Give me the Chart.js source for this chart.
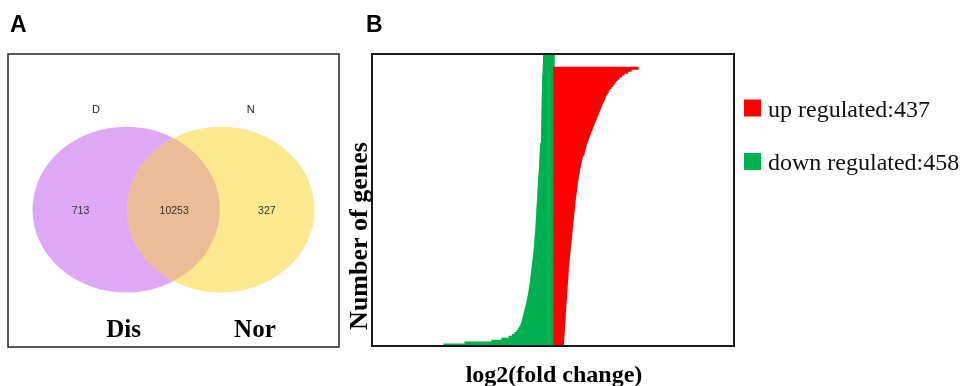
<!DOCTYPE html>
<html>
<head>
<meta charset="utf-8">
<script src="https://cdn.jsdelivr.net/npm/chart.js@4.4.0/dist/chart.umd.min.js"></script>
<style>
  html, body { margin: 0; padding: 0; background: #ffffff; }
  #wrap { position: relative; width: 966px; height: 386px; overflow: hidden; }
  #chartB { position: absolute; left: 0; top: 0; }
  #chartA { position: absolute; left: 0; top: 0; }
</style>
</head>
<body>
<div id="wrap">
  <canvas id="chartB" width="966" height="386"></canvas>
  <canvas id="chartA" width="345" height="386"></canvas>
</div>
<script>
// ---------- Panel A data (Venn) ----------
const vennSets = ['D', 'N'];
const vennCaptions = ['Dis', 'Nor'];
const vennCounts = [713, 10253, 327]; // D only, D and N, N only

// ---------- Panel B data (sorted log2 fold change, bottom to top, binned genes) ----------
const upCount = 437;
const downCount = 458;
const downLog2FC = [
  -11.0, -8.9, -6.2, -5.2, -4.5, -4.15, -3.9, -3.72, -3.56, -3.45,
  -3.33, -3.25, -3.18, -3.13, -3.09, -3.05, -2.99, -2.95, -2.9, -2.86,
  -2.81, -2.76, -2.71, -2.67, -2.63, -2.6, -2.56, -2.52, -2.49, -2.46,
  -2.43, -2.4, -2.38, -2.35, -2.32, -2.3, -2.27, -2.25, -2.23, -2.21,
  -2.19, -2.17, -2.14, -2.12, -2.1, -2.07, -2.05, -2.03, -2.01, -1.99,
  -1.97, -1.95, -1.93, -1.92, -1.9, -1.89, -1.88, -1.86, -1.85, -1.83,
  -1.82, -1.8, -1.79, -1.78, -1.77, -1.76, -1.75, -1.73, -1.72, -1.71,
  -1.7, -1.69, -1.68, -1.67, -1.66, -1.65, -1.63, -1.62, -1.61, -1.6,
  -1.59, -1.58, -1.57, -1.56, -1.55, -1.54, -1.53, -1.51, -1.5, -1.49,
  -1.47, -1.46, -1.45, -1.44, -1.43, -1.42, -1.41, -1.4, -1.39, -1.38,
  -1.37, -1.36, -1.35, -1.35, -1.34, -1.33, -1.25, -1.24, -1.24, -1.23,
  -1.23, -1.23, -1.22, -1.22, -1.22, -1.21, -1.21, -1.21, -1.2, -1.2,
  -1.2, -1.19, -1.19, -1.19, -1.18, -1.18, -1.18, -1.17, -1.17, -1.17,
  -1.16, -1.16, -1.15, -1.15, -1.15, -1.14, -1.14, -1.13, -1.13, -1.12,
  -1.12, -1.11, -1.1, -1.07, -1.07, -1.06, -1.06, -1.05, -1.05, -1.04,
  -1.04, -1.03, -1.03
];
const upLog2FC = [
  0.93, 0.94, 0.95, 0.96, 0.97, 0.98, 0.99, 1.01, 1.02, 1.03,
  1.04, 1.05, 1.06, 1.08, 1.09, 1.1, 1.11, 1.12, 1.14, 1.15,
  1.16, 1.17, 1.18, 1.19, 1.21, 1.22, 1.24, 1.25, 1.26, 1.28,
  1.29, 1.3, 1.32, 1.34, 1.35, 1.36, 1.37, 1.38, 1.39, 1.4,
  1.41, 1.43, 1.45, 1.47, 1.49, 1.51, 1.53, 1.55, 1.57, 1.59,
  1.6, 1.62, 1.64, 1.66, 1.68, 1.7, 1.72, 1.74, 1.76, 1.78,
  1.79, 1.81, 1.83, 1.85, 1.87, 1.89, 1.91, 1.93, 1.95, 1.97,
  1.99, 2.01, 2.03, 2.05, 2.06, 2.08, 2.1, 2.13, 2.15, 2.18,
  2.2, 2.23, 2.25, 2.28, 2.3, 2.33, 2.36, 2.39, 2.42, 2.45,
  2.48, 2.51, 2.55, 2.58, 2.62, 2.66, 2.7, 2.75, 2.8, 2.86,
  2.97, 3.02, 3.06, 3.11, 3.16, 3.21, 3.28, 3.35, 3.42, 3.48,
  3.55, 3.63, 3.7, 3.78, 3.85, 3.93, 4.01, 4.08, 4.16, 4.23,
  4.31, 4.39, 4.47, 4.55, 4.63, 4.7, 4.77, 4.86, 4.95, 5.04,
  5.12, 5.2, 5.32, 5.43, 5.53, 5.7, 5.85, 6.0, 6.12, 6.3,
  6.5, 6.75, 7.0, 7.35, 7.7, 8.4
];
const geneRankBins = downLog2FC.map((_, i) => 'bin ' + (i + 1));
const legendLabels = ['up regulated:' + upCount, 'down regulated:' + downCount];
const axisTitleX = 'log2(fold change)';
const axisTitleY = 'Number of genes';
const panelLetters = ['A', 'B'];

// ---------- Panel B ----------
const RED = '#ff0000';
const GREEN = '#00b050';

const panelBDecor = {
  id: 'panelBDecor',
  afterDraw(chart) {
    const ctx = chart.ctx;
    const a = chart.chartArea;
    ctx.save();
    // box
    ctx.strokeStyle = '#1a1a1a';
    ctx.lineWidth = 2;
    ctx.strokeRect(a.left, a.top, a.right - a.left, a.bottom - a.top);
    // panel letter
    ctx.fillStyle = '#000';
    ctx.font = 'bold 23px "Liberation Sans", Arial, sans-serif';
    ctx.textAlign = 'left';
    ctx.textBaseline = 'alphabetic';
    ctx.fillText(panelLetters[1], 366, 32);
    // x title
    ctx.font = 'bold 24px "Liberation Serif", "Times New Roman", serif';
    ctx.textAlign = 'center';
    ctx.fillText(axisTitleX, (a.left + a.right) / 2 + 1, 382);
    // y title
    ctx.save();
    ctx.translate(367, 236);
    ctx.rotate(-Math.PI / 2);
    ctx.font = 'bold 26px "Liberation Serif", "Times New Roman", serif';
    ctx.textAlign = 'center';
    ctx.fillText(axisTitleY, 0, 0);
    ctx.restore();
    // legend
    const ds = chart.data.datasets;
    const rows = [{ y: 99.5, base: 117 }, { y: 153, base: 170 }];
    ds.forEach((d, i) => {
      ctx.fillStyle = d.backgroundColor;
      ctx.fillRect(744, rows[i].y, 17, 17);
      ctx.fillStyle = '#111';
      ctx.font = '24px "Liberation Serif", "Times New Roman", serif';
      ctx.textAlign = 'left';
      ctx.fillText(d.label, 768, rows[i].base);
    });
    ctx.restore();
  }
};

new Chart(document.getElementById('chartB'), {
  type: 'bar',
  data: {
    labels: geneRankBins,
    datasets: [
      { label: legendLabels[0], data: upLog2FC, backgroundColor: RED },
      { label: legendLabels[1], data: downLog2FC, backgroundColor: GREEN }
    ]
  },
  options: {
    indexAxis: 'y',
    responsive: false,
    animation: false,
    devicePixelRatio: 1,
    layout: { padding: { left: 372, right: 232, top: 54, bottom: 40 } },
    datasets: {
      bar: { grouped: false, barPercentage: 1, categoryPercentage: 1, borderWidth: 0, inflateAmount: 0.6 }
    },
    scales: {
      x: { type: 'linear', min: -18.2, max: 18, display: false },
      y: { type: 'category', reverse: true, offset: true, display: false }
    },
    plugins: { legend: { display: false }, tooltip: { enabled: false }, title: { display: false } }
  },
  plugins: [panelBDecor]
});

// ---------- Panel A (Venn drawn on library scales 0..100) ----------
const vennLayout = {
  centers: [35.7, 64.3], cy: 53.1, r: 28.3,
  labelY: 18.8, labelX: [26.6, 73.3],
  countX: [21.9, 50.2, 78.2],
  captionX: [34.9, 74.6], captionY: 96.6,
  colors: ['#dfa9f6', '#fde98f', '#ebbd98']
};

const vennPlugin = {
  id: 'vennPlugin',
  afterDraw(chart) {
    const ctx = chart.ctx;
    const xs = chart.scales.x, ys = chart.scales.y;
    const a = chart.chartArea;
    const L = vennLayout;
    const rx = Math.abs(xs.getPixelForValue(L.r) - xs.getPixelForValue(0));
    const ry = Math.abs(ys.getPixelForValue(L.r) - ys.getPixelForValue(0));
    const cy = ys.getPixelForValue(L.cy);
    const cx = L.centers.map(c => xs.getPixelForValue(c));
    const ell = (i) => { ctx.beginPath(); ctx.ellipse(cx[i], cy, rx, ry, 0, 0, Math.PI * 2); };
    ctx.save();
    ctx.fillStyle = L.colors[0]; ell(0); ctx.fill();
    ctx.fillStyle = L.colors[1]; ell(1); ctx.fill();
    ctx.save(); ell(0); ctx.clip(); ctx.fillStyle = L.colors[2]; ell(1); ctx.fill(); ctx.restore();

    ctx.textAlign = 'center';
    ctx.textBaseline = 'alphabetic';
    ctx.fillStyle = '#222';
    ctx.font = '11px "Liberation Sans", Arial, sans-serif';
    vennSets.forEach((s, i) => ctx.fillText(s, xs.getPixelForValue(L.labelX[i]), ys.getPixelForValue(L.labelY) + 4));
    ctx.fillStyle = '#333';
    ctx.font = '10.5px "Liberation Sans", Arial, sans-serif';
    vennCounts.forEach((n, i) => ctx.fillText(String(n), xs.getPixelForValue(L.countX[i]), cy + 4));
    ctx.fillStyle = '#000';
    ctx.font = 'bold 25px "Liberation Serif", "Times New Roman", serif';
    vennCaptions.forEach((s, i) => ctx.fillText(s, xs.getPixelForValue(L.captionX[i]), ys.getPixelForValue(L.captionY)));

    ctx.strokeStyle = '#222';
    ctx.lineWidth = 1.5;
    ctx.strokeRect(a.left, a.top, a.right - a.left, a.bottom - a.top);

    ctx.textAlign = 'left';
    ctx.font = 'bold 23px "Liberation Sans", Arial, sans-serif';
    ctx.fillText(panelLetters[0], 10, 32);
    ctx.restore();
  }
};

new Chart(document.getElementById('chartA'), {
  type: 'scatter',
  data: { datasets: [] },
  options: {
    responsive: false,
    animation: false,
    devicePixelRatio: 1,
    layout: { padding: { left: 8, right: 6, top: 54, bottom: 39 } },
    scales: {
      x: { type: 'linear', min: 0, max: 100, display: false },
      y: { type: 'linear', min: 0, max: 100, reverse: true, display: false }
    },
    plugins: { legend: { display: false }, tooltip: { enabled: false } }
  },
  plugins: [vennPlugin]
});
</script>
</body>
</html>
